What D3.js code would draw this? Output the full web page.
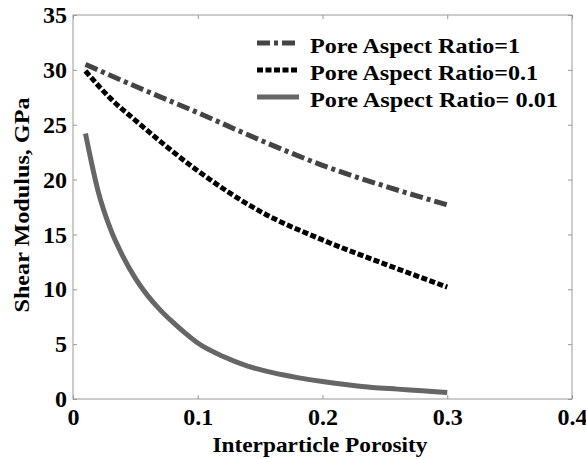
<!DOCTYPE html>
<html>
<head>
<meta charset="utf-8">
<script src="https://cdn.jsdelivr.net/npm/d3@7"></script>
<style>
body { margin: 0; background: #fff; }
text { font-family: "Liberation Serif", "Times New Roman", serif; font-weight: bold; fill: #000; }
</style>
</head>
<body>
<svg id="chart" width="586" height="459"></svg>
<script>
// porosity values
var porosity1 = [0.01, 0.05, 0.1, 0.15, 0.2, 0.25, 0.3];
var shear1 = [30.5, 28.5, 26.1, 23.6, 21.3, 19.4, 17.7];

var porosity2 = [0.01, 0.02, 0.03, 0.05, 0.1, 0.15, 0.2, 0.25, 0.3];
var shear2 = [29.9, 28.6, 27.4, 25.4, 20.8, 17.1, 14.5, 12.3, 10.2];

var porosity3 = [0.01, 0.02, 0.03, 0.04, 0.05, 0.06, 0.07, 0.08, 0.09, 0.1, 0.12, 0.14, 0.16, 0.18, 0.2, 0.22, 0.24, 0.26, 0.28, 0.3];
var shear3 = [24.2, 19.0, 15.5, 13.0, 11.0, 9.4, 8.1, 7.0, 6.0, 5.1, 3.9, 3.0, 2.4, 1.95, 1.6, 1.3, 1.05, 0.9, 0.75, 0.6];

var seriesNames = ['Pore Aspect Ratio=1', 'Pore Aspect Ratio=0.1', 'Pore Aspect Ratio= 0.01'];
var xTicks = [0, 0.1, 0.2, 0.3, 0.4];
var yTicks = [0, 5, 10, 15, 20, 25, 30, 35];

var svg = d3.select('#chart');
var plotLeft = 73, plotRight = 572, plotTop = 15, plotBottom = 399;

var x = d3.scaleLinear().domain([0, 0.4]).range([plotLeft, plotRight]);
var y = d3.scaleLinear().domain([0, 35]).range([plotBottom, plotTop]);

//frame with inward ticks on all four sides
var axisColor = '#999';
function styleAxis(g) {
    g.select('.domain').remove();
    g.attr('font-family', '"Liberation Serif", "Times New Roman", serif').attr('font-weight', 'bold');
    g.selectAll('.tick line').attr('stroke', axisColor);
}
svg.append('g').attr('transform', 'translate(0,' + plotBottom + ')')
    .call(d3.axisBottom(x).tickValues(xTicks).tickSizeInner(-4).tickSizeOuter(0).tickFormat(d3.format('')))
    .call(styleAxis)
    .selectAll('text').attr('font-size', 24).attr('y', 26).attr('dy', null);
svg.append('g').attr('transform', 'translate(0,' + plotTop + ')')
    .call(d3.axisTop(x).tickValues(xTicks).tickSizeInner(-4).tickSizeOuter(0).tickFormat(''))
    .call(styleAxis);
svg.append('g').attr('transform', 'translate(' + plotLeft + ',0)')
    .call(d3.axisLeft(y).tickValues(yTicks).tickSizeInner(-4).tickSizeOuter(0).tickPadding(6))
    .call(styleAxis)
    .selectAll('text').attr('font-size', 24);
svg.append('g').attr('transform', 'translate(' + plotRight + ',0)')
    .call(d3.axisRight(y).tickValues(yTicks).tickSizeInner(-4).tickSizeOuter(0).tickFormat(''))
    .call(styleAxis);
svg.selectAll('.tick text').attr('fill', '#000');

svg.append('rect')
    .attr('x', plotLeft).attr('y', plotTop)
    .attr('width', plotRight - plotLeft).attr('height', plotBottom - plotTop)
    .attr('fill', 'none').attr('stroke', axisColor).attr('stroke-width', 1);

var series = [
    { xs: porosity1, ys: shear1, color: '#444', dash: '13,4,4,4' },
    { xs: porosity2, ys: shear2, color: '#000', dash: '6,2.5' },
    { xs: porosity3, ys: shear3, color: '#666', dash: null }
];

var line = d3.line()
    .x(function (d) { return x(d[0]); })
    .y(function (d) { return y(d[1]); })
    .curve(d3.curveMonotoneX);

series.forEach(function (s) {
    svg.append('path')
        .datum(d3.zip(s.xs, s.ys))
        .attr('d', line)
        .attr('fill', 'none')
        .attr('stroke', s.color)
        .attr('stroke-width', 5)
        .attr('stroke-dasharray', s.dash);
});

//legend
var legendWidths = [210, 228, 248];
var legend = svg.append('g');
series.forEach(function (s, i) {
    var ly = 43 + i * 27;
    legend.append('line')
        .attr('x1', 257).attr('x2', 299)
        .attr('y1', ly).attr('y2', ly)
        .attr('stroke', s.color)
        .attr('stroke-width', 5)
        .attr('stroke-dasharray', s.dash);
    legend.append('text')
        .attr('x', 310).attr('y', ly + 10)
        .attr('font-size', 22)
        .attr('textLength', legendWidths[i])
        .attr('lengthAdjust', 'spacingAndGlyphs')
        .text(seriesNames[i]);
});

//axis titles
svg.append('text')
    .attr('x', 320).attr('y', 452)
    .attr('text-anchor', 'middle')
    .attr('font-size', 22)
    .attr('textLength', 215)
    .attr('lengthAdjust', 'spacingAndGlyphs')
    .text('Interparticle Porosity');
svg.append('text')
    .attr('transform', 'translate(29,205) rotate(-90)')
    .attr('text-anchor', 'middle')
    .attr('font-size', 22)
    .attr('textLength', 215)
    .attr('lengthAdjust', 'spacingAndGlyphs')
    .text('Shear Modulus, GPa');
</script>
</body>
</html>
